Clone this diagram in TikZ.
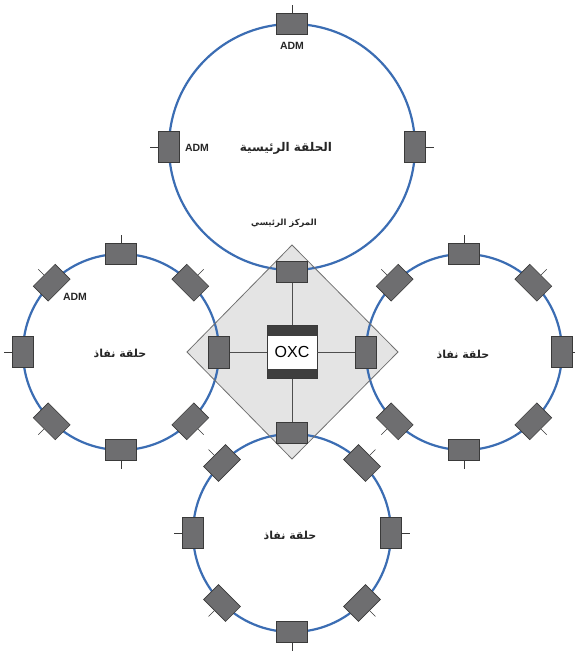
\documentclass[tikz,border=0pt]{standalone}
\usepackage{fontspec}
\setmainfont{Liberation Sans}
\newfontfamily\arabicfont[Script=Arabic]{DejaVu Sans}
\TeXXeTstate=1
\usetikzlibrary{calc}
\definecolor{ringblue}{HTML}{3B6DB3}
\definecolor{admfill}{HTML}{6E6E70}
\definecolor{admedge}{HTML}{3A3A3A}
\definecolor{diafill}{HTML}{E4E4E4}
\definecolor{diaedge}{HTML}{707070}
\definecolor{bandgray}{HTML}{3E3E3E}
\newcommand\admnode[4]{%
  \node[admbox, rotate=-#4] (#1) at ($(#2)+(#4:#3)$) {};
  \coordinate (#1s) at ($(#2)+(#4:#3+19)$);
  \draw[stubline] (#1.east) -- (#1s);
}
\begin{document}
\begin{tikzpicture}[x=1pt,y=-1pt,
  admbox/.style={rectangle, draw=admedge, fill=admfill, line width=0.6pt,
    minimum width=21pt, minimum height=31pt, inner sep=0pt},
  stubline/.style={draw=admedge, line width=0.6pt},
  ring/.style={draw=ringblue, line width=2.2pt},
  link/.style={draw=admedge!90, line width=0.8pt},
  admlabel/.style={font=\bfseries\fontsize{10.5}{12}\selectfont, text=black!85},
  ringlabel/.style={font=\arabicfont\bfseries\fontsize{11}{13}\selectfont, text=black!85},
  oxcbox/.style={rectangle, minimum width=50pt, minimum height=53pt, fill=white,
    draw=admedge, line width=0.6pt, inner sep=0pt,
    font=\fontsize{16}{18}\selectfont,
    path picture={
      \fill[bandgray] (path picture bounding box.north west) rectangle ([yshift=-10pt]path picture bounding box.north east);
      \fill[bandgray] (path picture bounding box.south west) rectangle ([yshift=10pt]path picture bounding box.south east);
    }}
]
\useasboundingbox (0,0) rectangle (574,653);
\fill[white] (0,0) rectangle (574,653);
% centres
\coordinate (ctop) at (292,147);
\coordinate (cl) at (121,352);
\coordinate (cr) at (464,352);
\coordinate (cb) at (292,533);
% diamond corners
\coordinate (dN) at (292,245);
\coordinate (dE) at (398,352);
\coordinate (dS) at (292,459);
\coordinate (dW) at (187,352);
\fill[diafill] (dN) -- (dE) -- (dS) -- (dW) -- cycle;
% rings
\draw[ring] (ctop) circle[radius=123];
\draw[ring] (cl) circle[radius=98];
\draw[ring] (cr) circle[radius=98];
\draw[ring] (cb) circle[radius=99];
\draw[draw=diaedge, line width=0.8pt] (dN) -- (dE) -- (dS) -- (dW) -- cycle;
% OXC and hub ADMs
\node[oxcbox] (oxc) at (292,352) {OXC};
\node[admbox, rotate=90] (hn) at (292,272) {};
\node[admbox, rotate=90] (hs) at (292,433) {};
\node[admbox, minimum height=32pt] (hw) at (219,352) {};
\node[admbox, minimum height=32pt] (he) at (366,352) {};
\draw[link] (oxc.north) -- (hn.west);
\draw[link] (oxc.south) -- (hs.east);
\draw[link] (oxc.west) -- (hw.east);
\draw[link] (oxc.east) -- (he.west);
% main ring ADMs
\admnode{t1}{ctop}{123}{-90}
\admnode{t2}{ctop}{123}{180}
\admnode{t3}{ctop}{123}{0}
% access rings
\foreach \a in {45,90,135,180,225,270,315} {\admnode{l\a}{cl}{98}{\a}}
\foreach \a in {0,45,90,135,225,270,315} {\admnode{r\a}{cr}{98}{\a}}
\foreach \a in {0,45,90,135,180,225,315} {\admnode{b\a}{cb}{99}{\a}}
% labels
\node[admlabel] (lbt) at (292,46) {ADM};
\node[admlabel] (lbl) at (197,148) {ADM};
\node[admlabel] (lbl2) at (75,297) {ADM};
\node[font=\arabicfont\bfseries\fontsize{12}{14}\selectfont, text=black!85] (mainring) at (286,148) {\beginR الحلقة الرئيسية\endR};
\node[font=\arabicfont\bfseries\fontsize{8.5}{10}\selectfont, text=black!85] (hub) at (284,223) {\beginR المركز الرئيسي\endR};
\node[ringlabel] (accl) at (120,353) {\beginR حلقة نفاذ\endR};
\node[ringlabel] (accr) at (463,354) {\beginR حلقة نفاذ\endR};
\node[ringlabel] (accb) at (290,535) {\beginR حلقة نفاذ\endR};
\end{tikzpicture}
\end{document}
